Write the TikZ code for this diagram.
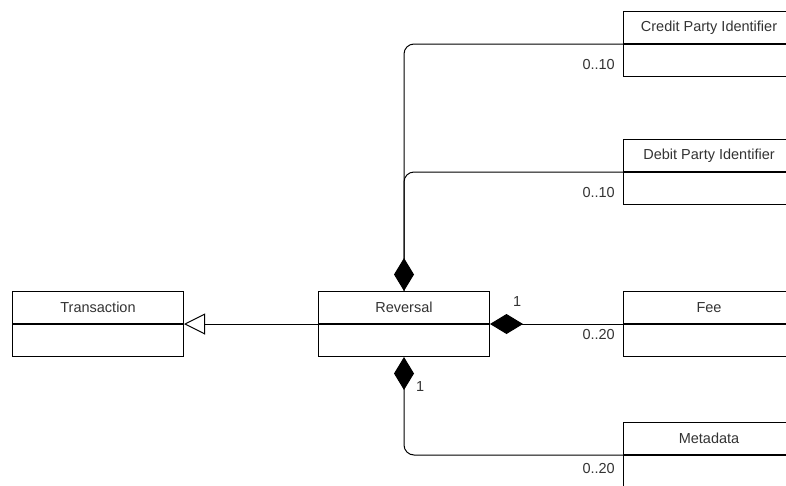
\documentclass[tikz,border=0pt]{standalone}
\usepackage{fontspec}
\setmainfont{Liberation Sans}
\usetikzlibrary{arrows.meta}
\definecolor{txt}{HTML}{333333}
\begin{document}
\begin{tikzpicture}[x=1pt,y=-1pt,
  head/.style={draw, line width=1pt, minimum width=171pt, minimum height=32pt, inner sep=0pt, anchor=north west, font=\fontsize{14.5}{16}\selectfont, text=txt},
  body/.style={draw, line width=1pt, minimum width=171pt, minimum height=32pt, inner sep=0pt, anchor=north},
  conn/.style={line width=1pt, rounded corners=10pt},
  lbl/.style={font=\fontsize{14.5}{16}\selectfont, text=txt, inner sep=0pt},
  comp/.style={{Diamond[length=33pt,width=20pt]}-}
]
\useasboundingbox (0,0) rectangle (786,485);
\clip (0,0) rectangle (786,485);
% classes
\node[head] (tr) at (12,291) {Transaction};
\node[body] (trb) at (tr.south) {};
\node[head] (rev) at (318,291) {Reversal};
\node[body] (revb) at (rev.south) {};
\node[head] (fee) at (623,291) {Fee};
\node[body] (feeb) at (fee.south) {};
\node[head] (cpi) at (623,11) {Credit Party Identifier};
\node[body] (cpib) at (cpi.south) {};
\node[head] (dpi) at (623,139) {Debit Party Identifier};
\node[body] (dpib) at (dpi.south) {};
\node[head] (md) at (623,422) {Metadata};
\node[body] (mdb) at (md.south) {};
% generalization
\draw[line width=1pt, -{Triangle[open,length=21pt,width=21pt]}] (rev.south west) -- (tr.south east);
% compositions
\draw[conn, comp] (rev.south east) -- (fee.south west);
\draw[conn] (rev.north) |- (dpi.south west);
\draw[conn, comp] (rev.north) |- (cpi.south west);
\draw[conn, comp] (revb.south) |- (md.south west);
% multiplicities
\node[lbl, anchor=east] (l1) at (615,65) {0..10};
\node[lbl, anchor=east] (l2) at (615,193) {0..10};
\node[lbl, anchor=west] (l3) at (513,302) {1};
\node[lbl, anchor=east] (l4) at (615,335) {0..20};
\node[lbl, anchor=west] (l5) at (416,387) {1};
\node[lbl, anchor=east] (l6) at (615,468) {0..20};
\end{tikzpicture}
\end{document}
